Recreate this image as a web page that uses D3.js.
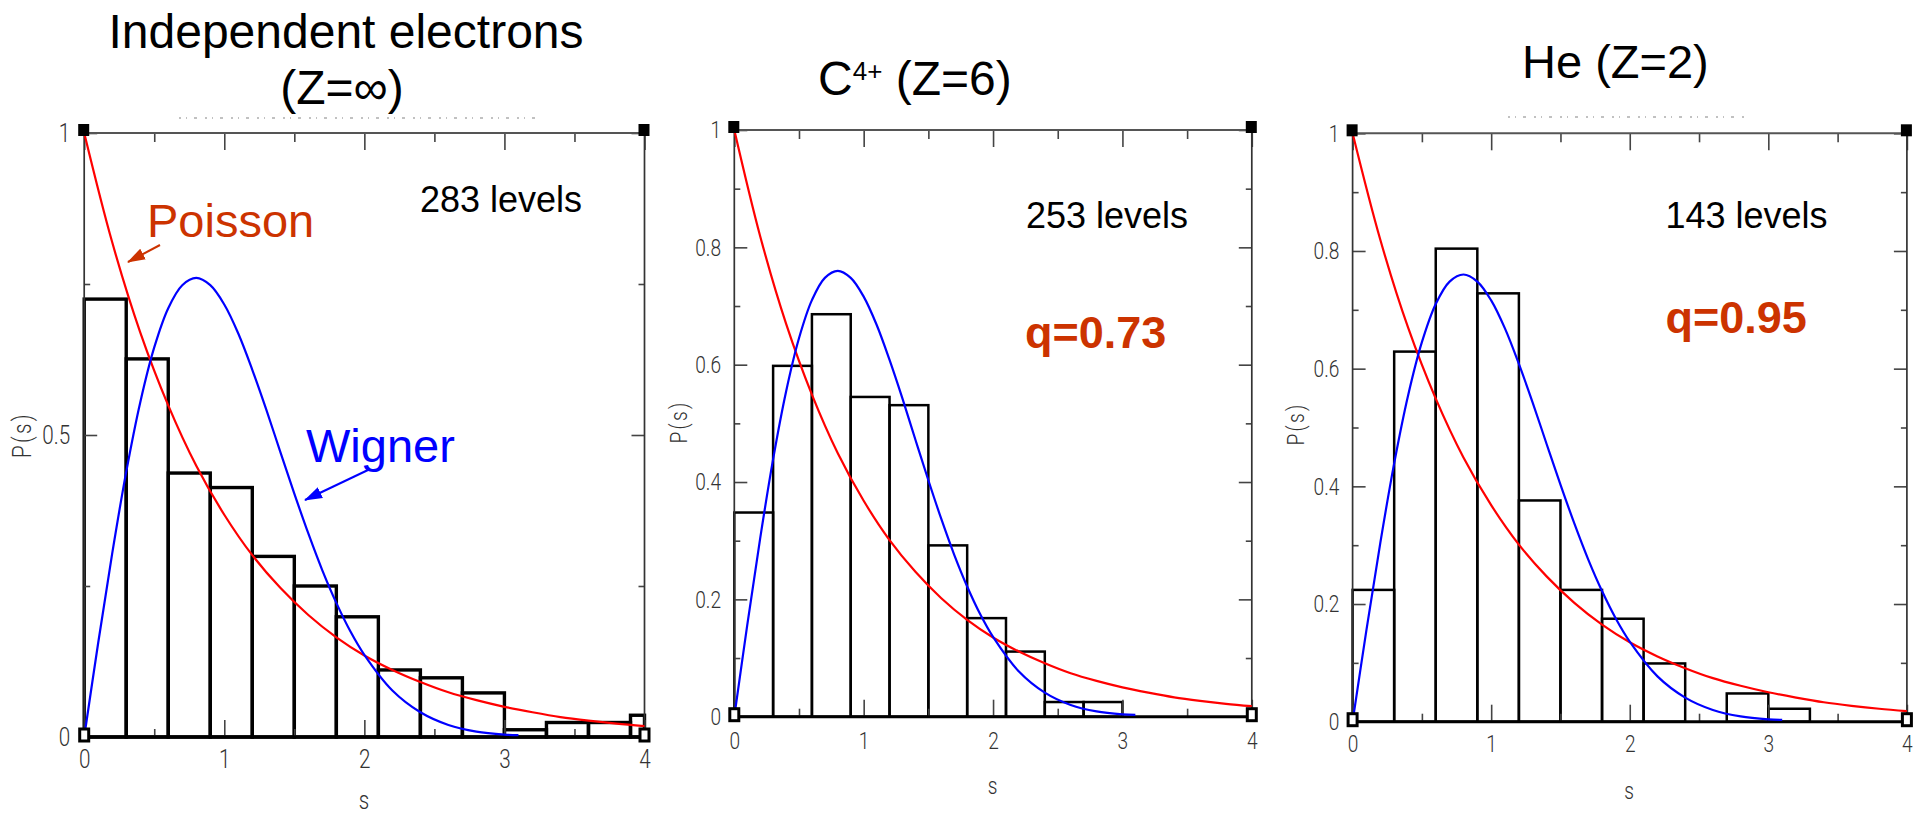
<!DOCTYPE html>
<html>
<head>
<meta charset="utf-8">
<script src="https://cdn.jsdelivr.net/npm/d3@7/dist/d3.min.js"></script>
<style>
  html, body { margin: 0; padding: 0; background: #fff; }
  svg { display: block; }
</style>
</head>
<body>
<svg id="chart" width="1923" height="816"></svg>
<script>
// ---------------- DATA ----------------
// Poisson curve P(s)
const poissonS = [0,0.2,0.4,0.6,0.8,1.0,1.2,1.4,1.6,1.8,2.0,2.2,2.4,2.6,2.8,3.0,3.2,3.4,3.6,3.8,4.0];
const poissonP = [1.0,0.819,0.670,0.549,0.449,0.368,0.301,0.247,0.202,0.165,0.135,0.111,0.091,0.074,0.061,0.050,0.041,0.033,0.027,0.022,0.018];
// Wigner curve P(s)
const wignerS = [0,0.1,0.2,0.3,0.4,0.5,0.6,0.7,0.8,0.9,1.0,1.1,1.2,1.3,1.4,1.5,1.6,1.7,1.8,1.9,2.0,2.2,2.4,2.6,2.8,3.0,3.1];
const wignerP = [0,0.156,0.304,0.439,0.554,0.645,0.710,0.748,0.760,0.748,0.716,0.668,0.608,0.542,0.472,0.403,0.337,0.276,0.222,0.175,0.136,0.077,0.041,0.020,0.009,0.004,0.003];
// Histogram bins (width 0.3)
const binWidth = 0.3;
const binStarts = [0,0.3,0.6,0.9,1.2,1.5,1.8,2.1,2.4,2.7,3.0,3.3,3.6,3.9];
const histIndependent = [0.725,0.626,0.437,0.413,0.299,0.250,0.199,0.111,0.098,0.073,0.012,0.024,0.024,0.036];
const histC4 = [0.348,0.598,0.686,0.545,0.531,0.292,0.168,0.111,0.025,0.025];
const histHe = [0.224,0.629,0.804,0.728,0.376,0.224,0.175,0.099,0,0.048,0.022];
// Ticks
const xMajorTicks = [0,1,2,3,4];
const xMinorTicks = [0.5,1.5,2.5,3.5];
const yMajorTicks1 = [0,0.5,1];
const yMinorTicks1 = [0.25,0.75];
const yMajorTicks23 = [0,0.2,0.4,0.6,0.8,1];
const yMinorTicks23 = [0.1,0.3,0.5,0.7,0.9];
// Texts
const levelLabels = ["283 levels","253 levels","143 levels"];
const qLabels = [null,"q=0.73","q=0.95"];

// ---------------- LAYOUT ----------------
const panels = [
  {x0:84.2, x1:644.5, yT:133, yB:737, hist:histIndependent, hs:3.4, axisW:3.5,
   yMaj:yMajorTicks1, yMin:yMinorTicks1, fs:26.5, yPad:18, xPad:12,
   ylab:[22,435], slab:[364,801], lev:[420,212], q:null,
   garble:[179,543,118]},
  {x0:734.3, x1:1251.8, yT:130, yB:716.7, hist:histC4, hs:2.5, axisW:3,
   yMaj:yMajorTicks23, yMin:yMinorTicks23, fs:24.5, yPad:17, xPad:15,
   ylab:[678,422], slab:[992.6,787], lev:[1026,228], q:[1025,348],
   garble:null},
  {x0:1352.6, x1:1906.9, yT:133.3, yB:721.7, hist:histHe, hs:2.5, axisW:3,
   yMaj:yMajorTicks23, yMin:yMinorTicks23, fs:24.5, yPad:17, xPad:13,
   ylab:[1295,424], slab:[1629,792], lev:[1665.5,228], q:[1665.5,333],
   garble:[1508,1748,117]}
];

const svg = d3.select("#chart");
const defs = svg.append("defs");
function marker(id, color){
  defs.append("marker").attr("id",id).attr("markerUnits","userSpaceOnUse")
    .attr("viewBox","0 0 18 12").attr("refX",17).attr("refY",6)
    .attr("markerWidth",18).attr("markerHeight",13).attr("orient","auto")
    .append("path").attr("d","M0,0 L18,6 L0,12 Z").attr("fill",color);
}
marker("arrRed","#cc3300");
marker("arrBlue","#0000ff");

const thinFont = "Roboto, 'DejaVu Sans', sans-serif";
const sx = 0.78;

panels.forEach((p, i) => {
  const g = svg.append("g");
  const x = d3.scaleLinear().domain([0,4]).range([p.x0, p.x1]).clamp(true);
  const y = d3.scaleLinear().domain([0,1]).range([p.yB, p.yT]);

  // faint remnant of a tiny header text above the frame
  if (p.garble) {
    g.append("line").attr("x1",p.garble[0]).attr("x2",p.garble[1])
      .attr("y1",p.garble[2]).attr("y2",p.garble[2])
      .attr("stroke","#333").attr("stroke-width",1.5)
      .attr("stroke-dasharray","2,5,1,7,3,8").attr("opacity",0.4);
  }

  // histogram
  const bins = p.hist.map((v,k)=>({s:binStarts[k], v:v}));
  g.append("g").selectAll("rect").data(bins.filter(d=>d.v>0)).join("rect")
    .attr("x", d=>x(d.s))
    .attr("width", d=>x(d.s+binWidth)-x(d.s))
    .attr("y", d=>y(d.v))
    .attr("height", d=>y(0)-y(d.v))
    .attr("fill","none").attr("stroke","#000").attr("stroke-width",p.hs);

  // axes: ticks inward
  const tickCol = "#444";
  function styleAxis(sel){
    sel.select(".domain").remove();
    sel.selectAll("line").attr("stroke",tickCol).attr("stroke-width",1.6);
  }
  const gl = g.append("g").attr("transform",`translate(${p.x0},0)`)
    .call(d3.axisLeft(y).tickValues(p.yMaj).tickSize(-13).tickPadding(p.yPad)
      .tickFormat(d=>d3.format("~g")(d)));
  styleAxis(gl);
  gl.selectAll("text").attr("font-family",thinFont).attr("font-weight",300)
    .attr("font-size",p.fs).attr("fill","#333").attr("transform",`scale(${sx},1)`);
  g.append("g").attr("transform",`translate(${p.x0},0)`)
    .call(d3.axisLeft(y).tickValues(p.yMin).tickSize(-6).tickFormat("")).call(styleAxis);
  g.append("g").attr("transform",`translate(${p.x1},0)`)
    .call(d3.axisRight(y).tickValues(p.yMaj).tickSize(-13).tickFormat("")).call(styleAxis);
  g.append("g").attr("transform",`translate(${p.x1},0)`)
    .call(d3.axisRight(y).tickValues(p.yMin).tickSize(-6).tickFormat("")).call(styleAxis);
  g.append("g").attr("transform",`translate(0,${p.yT})`)
    .call(d3.axisTop(x).tickValues(xMajorTicks).tickSize(-17).tickFormat("")).call(styleAxis);
  g.append("g").attr("transform",`translate(0,${p.yT})`)
    .call(d3.axisTop(x).tickValues(xMinorTicks).tickSize(-9).tickFormat("")).call(styleAxis);
  const gb = g.append("g").attr("transform",`translate(0,${p.yB})`)
    .call(d3.axisBottom(x).tickValues(xMajorTicks).tickSize(-17).tickPadding(p.xPad)
      .tickFormat(d3.format("d")));
  styleAxis(gb);
  gb.selectAll("text").attr("font-family",thinFont).attr("font-weight",300)
    .attr("font-size",p.fs).attr("fill","#333").attr("transform",`scale(${sx},1)`);
  g.append("g").attr("transform",`translate(0,${p.yB})`)
    .call(d3.axisBottom(x).tickValues(xMinorTicks).tickSize(-8).tickFormat("")).call(styleAxis);

  // frame
  g.append("line").attr("x1",p.x0).attr("x2",p.x0).attr("y1",p.yT).attr("y2",p.yB)
    .attr("stroke","#333").attr("stroke-width",1.7);
  g.append("line").attr("x1",p.x1).attr("x2",p.x1).attr("y1",p.yT).attr("y2",p.yB)
    .attr("stroke","#333").attr("stroke-width",1.7);
  g.append("line").attr("x1",p.x0).attr("x2",p.x1).attr("y1",p.yT).attr("y2",p.yT)
    .attr("stroke","#555").attr("stroke-width",2);
  g.append("line").attr("x1",p.x0).attr("x2",p.x1).attr("y1",p.yB).attr("y2",p.yB)
    .attr("stroke","#000").attr("stroke-width",p.axisW);

  // curves
  const line = d3.line().x(d=>x(d[0])).y(d=>y(d[1])).curve(d3.curveCatmullRom);
  g.append("path").datum(poissonS.map((s,k)=>[s,poissonP[k]]))
    .attr("d",line).attr("fill","none").attr("stroke","#ff0000").attr("stroke-width",2.2);
  g.append("path").datum(wignerS.map((s,k)=>[s,wignerP[k]]))
    .attr("d",line).attr("fill","none").attr("stroke","#0000ff").attr("stroke-width",2.2);

  // corner squares
  [[p.x0,p.yT],[p.x1,p.yT]].forEach(c=>{
    g.append("rect").attr("x",c[0]-6).attr("y",c[1]-9).attr("width",11).attr("height",12).attr("fill","#000");
  });
  [[p.x0,p.yB],[p.x1,p.yB]].forEach(c=>{
    g.append("rect").attr("x",c[0]-4.5).attr("y",c[1]-8).attr("width",9).attr("height",12)
      .attr("fill","#fff").attr("stroke","#000").attr("stroke-width",3);
  });

  // axis titles
  g.append("text").attr("transform",`translate(${p.ylab[0]},${p.ylab[1]}) rotate(-90) scale(${sx},1)`)
    .attr("text-anchor","middle").attr("dy","0.35em")
    .attr("font-family",thinFont).attr("font-weight",300).attr("font-size",p.fs)
    .attr("letter-spacing",3).attr("fill","#333").text("P(s)");
  g.append("text").attr("transform",`translate(${p.slab[0]},${p.slab[1]}) scale(${sx},1)`)
    .attr("text-anchor","middle").attr("dy","0.3em")
    .attr("font-family",thinFont).attr("font-weight",300).attr("font-size",p.fs)
    .attr("fill","#333").text("s");

  // annotations
  g.append("text").attr("x",p.lev[0]).attr("y",p.lev[1])
    .attr("font-family","'Liberation Sans', Arial, sans-serif").attr("font-size",36)
    .attr("fill","#000").text(levelLabels[i]);
  if (p.q) {
    g.append("text").attr("x",p.q[0]).attr("y",p.q[1])
      .attr("font-family","'Liberation Sans', Arial, sans-serif").attr("font-size",45)
      .attr("font-weight","bold").attr("fill","#cc3300").text(qLabels[i]);
  }
});

// Titles
const tf = "'Liberation Sans', Arial, sans-serif";
svg.append("text").attr("x",346).attr("y",48).attr("text-anchor","middle")
  .attr("font-family",tf).attr("font-size",48).text("Independent electrons");
svg.append("text").attr("x",342).attr("y",104).attr("text-anchor","middle")
  .attr("font-family",tf).attr("font-size",48).text("(Z=\u221E)");
const t2 = svg.append("text").attr("x",818).attr("y",95)
  .attr("font-family",tf).attr("font-size",48);
t2.append("tspan").text("C");
t2.append("tspan").attr("font-size",26).attr("dy",-15).text("4+");
t2.append("tspan").attr("dy",15).text(" (Z=6)");
svg.append("text").attr("x",1522).attr("y",78)
  .attr("font-family",tf).attr("font-size",47).text("He (Z=2)");

// Poisson / Wigner labels with arrows
svg.append("text").attr("x",147).attr("y",237).attr("font-family",tf).attr("font-size",47)
  .attr("fill","#cc3300").text("Poisson");
svg.append("line").attr("x1",160).attr("y1",245).attr("x2",128).attr("y2",262)
  .attr("stroke","#cc3300").attr("stroke-width",2).attr("marker-end","url(#arrRed)");
svg.append("text").attr("x",306).attr("y",462).attr("font-family",tf).attr("font-size",47)
  .attr("fill","#0000ff").text("Wigner");
svg.append("line").attr("x1",368).attr("y1",470).attr("x2",305).attr("y2",500)
  .attr("stroke","#0000ff").attr("stroke-width",2).attr("marker-end","url(#arrBlue)");
</script>
</body>
</html>
